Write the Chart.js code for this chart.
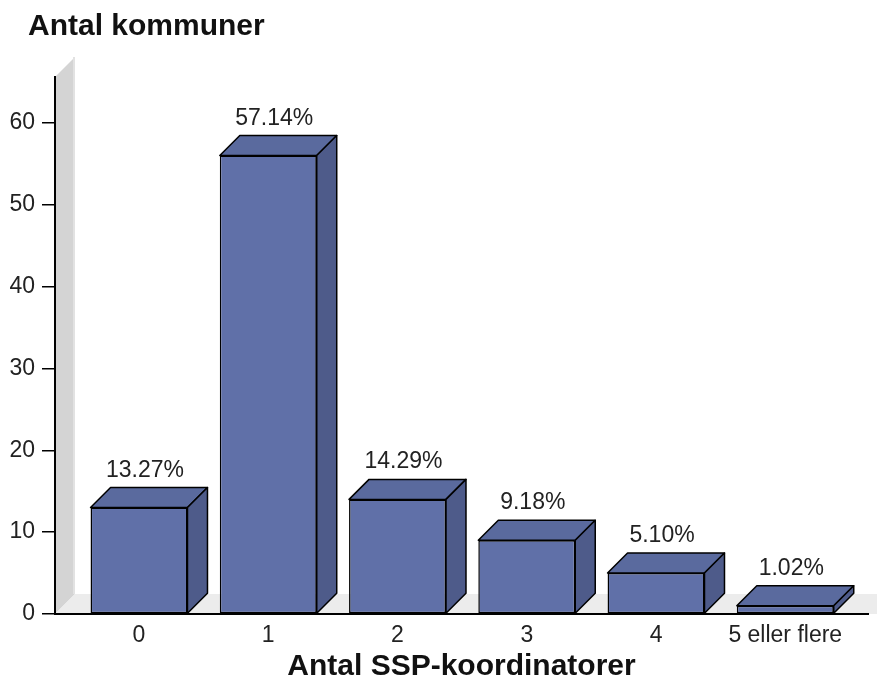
<!DOCTYPE html>
<html lang="da">
<head>
<meta charset="UTF-8">
<title>Antal SSP-koordinatorer</title>
<script src="https://cdn.jsdelivr.net/npm/chart.js@4.4.0/dist/chart.umd.min.js"></script>
<style>
	body { margin: 0; background: #fff; }
</style>
</head>
<body>
<canvas id="myChart" width="877" height="679"></canvas>
<script>
	const categories = ['0', '1', '2', '3', '4', '5 eller flere'];
	const counts = [13, 56, 14, 9, 5, 1];
	const percentLabels = ['13.27%', '57.14%', '14.29%', '9.18%', '5.10%', '1.02%'];
	const yTicks = [0, 10, 20, 30, 40, 50, 60];

	const depth = 20;
	const family = '"Liberation Sans", Arial, sans-serif';

	// fake 3d: wall, floor, bar tops and sides
	const box3d = {
		id: 'box3d',
		beforeDraw(chart) {
			const ctx = chart.ctx;
			const a = chart.chartArea;
			ctx.save();
			ctx.fillStyle = '#fff';
			ctx.fillRect(0, 0, chart.width, chart.height);
			ctx.fillStyle = '#d4d4d4';
			ctx.beginPath();
			ctx.moveTo(a.left, a.bottom);
			ctx.lineTo(a.left, a.top);
			ctx.lineTo(a.left + depth, a.top - depth);
			ctx.lineTo(a.left + depth, a.bottom - depth);
			ctx.closePath();
			ctx.fill();
			ctx.fillStyle = '#e2e2e2';
			ctx.fillRect(a.left + depth - 2, a.top - depth, 2, a.bottom - a.top);
			ctx.fillStyle = '#ececec';
			ctx.beginPath();
			ctx.moveTo(a.left, a.bottom);
			ctx.lineTo(a.left + depth, a.bottom - depth);
			ctx.lineTo(chart.width, a.bottom - depth);
			ctx.lineTo(chart.width, a.bottom);
			ctx.closePath();
			ctx.fill();
			ctx.restore();
		},
		afterDatasetsDraw(chart) {
			const ctx = chart.ctx;
			const meta = chart.getDatasetMeta(0);
			ctx.save();
			ctx.lineWidth = 1.5;
			ctx.strokeStyle = '#000';
			ctx.lineJoin = 'round';
			meta.data.forEach((bar, i) => {
				const l = bar.x - bar.width / 2;
				const r = bar.x + bar.width / 2;
				const t = bar.y;
				const b = bar.base;
				ctx.fillStyle = '#5a6a9e';
				ctx.beginPath();
				ctx.moveTo(l, t);
				ctx.lineTo(l + depth, t - depth);
				ctx.lineTo(r + depth, t - depth);
				ctx.lineTo(r, t);
				ctx.closePath();
				ctx.fill();
				ctx.stroke();
				ctx.fillStyle = '#4e5b8a';
				ctx.beginPath();
				ctx.moveTo(r, t);
				ctx.lineTo(r + depth, t - depth);
				ctx.lineTo(r + depth, b - depth);
				ctx.lineTo(r, b);
				ctx.closePath();
				ctx.fill();
				ctx.stroke();
				ctx.fillStyle = '#222';
				ctx.font = '23px ' + family;
				ctx.textAlign = 'center';
				ctx.textBaseline = 'alphabetic';
				ctx.fillText(percentLabels[i], bar.x + 6, t - depth - 11);
			});
			ctx.restore();
		},
		afterDraw(chart) {
			const ctx = chart.ctx;
			const a = chart.chartArea;
			ctx.save();
			ctx.fillStyle = '#111';
			ctx.font = 'bold 30px ' + family;
			ctx.textBaseline = 'alphabetic';
			ctx.textAlign = 'left';
			ctx.fillText('Antal kommuner', 28, 35);
			ctx.textAlign = 'center';
			ctx.fillText('Antal SSP-koordinatorer', (a.left + a.right) / 2, 675);
			ctx.restore();
		}
	};

	const ctx = document.getElementById('myChart').getContext('2d');
	const myChart = new Chart(ctx, {
		type: 'bar',
		data: {
			datasets: [{
				data: counts.map((v, i) => ({ x: i, y: v })),
				backgroundColor: '#6070a8',
				borderColor: '#000',
				borderWidth: 1.5,
				borderSkipped: false,
				barPercentage: 0.75,
				categoryPercentage: 1
			}]
		},
		options: {
			responsive: false,
			animation: false,
			layout: { padding: { top: 77, right: 9, left: 0, bottom: 0 } },
			plugins: {
				legend: { display: false },
				tooltip: { enabled: false }
			},
			scales: {
				x: {
					type: 'linear',
					offset: false,
					min: -0.65,
					max: 5.64,
					afterFit(s) { s.height = 65; },
					afterBuildTicks(s) { s.ticks = categories.map((c, i) => ({ value: i })); },
					ticks: {
						callback: v => categories[v],
						font: { family: family, size: 23 },
						color: '#222',
						padding: 0,
						autoSkip: false,
						maxRotation: 0
					},
					grid: { display: false },
					border: { display: true, color: '#000', width: 2 }
				},
				y: {
					min: 0,
					max: 65.6,
					afterFit(s) { s.width = 55; },
					afterBuildTicks(s) { s.ticks = yTicks.map(v => ({ value: v })); },
					ticks: {
						font: { family: family, size: 23 },
						color: '#222',
						padding: 7
					},
					grid: { drawOnChartArea: false, drawTicks: true, tickLength: 13, color: '#000', lineWidth: 1.5 },
					border: { display: true, color: '#000', width: 2 }
				}
			}
		},
		plugins: [box3d]
	});
</script>
</body>
</html>
